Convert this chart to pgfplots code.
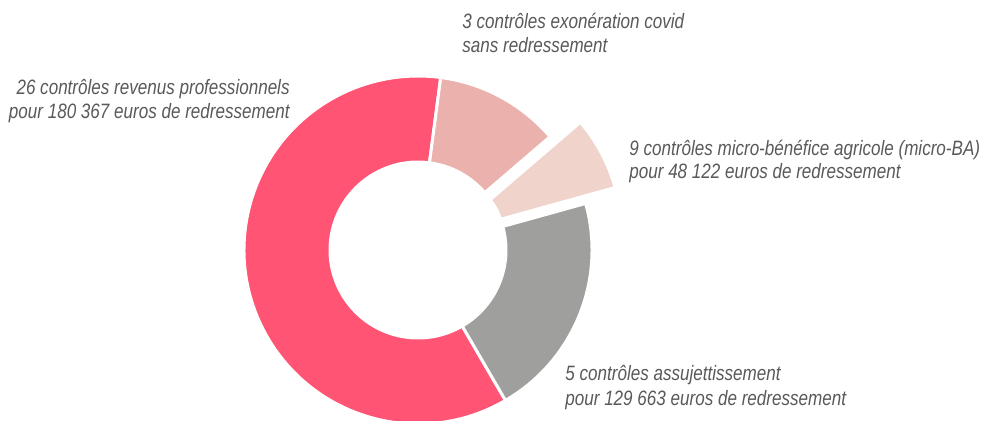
\documentclass[border=0pt]{standalone}
\usepackage{pgfplots}
\pgfplotsset{compat=1.18}
\usepackage{pgfplotstable}
\usepackage{fontspec}
\setmainfont{Liberation Sans}
\newfontfamily\lbl[FakeStretch=0.82]{Liberation Sans}

\definecolor{KRed}{HTML}{FF5473}
\definecolor{KRose}{HTML}{EBB1AD}
\definecolor{KPale}{HTML}{F0D4CC}
\definecolor{KGrey}{HTML}{9F9F9D}
\definecolor{KText}{HTML}{595959}

% slice sizes, clockwise from the top
\pgfplotstableread{
val
5
3
9
26
}\donut

% start / end angle of each slice
\def\total{43}
\def\angA{82.5}
\foreach \i in {0,1,2,3}{%
  \pgfplotstablegetelem{\i}{val}\of\donut
  \pgfmathsetmacro\angB{\angA-\pgfplotsretval*360/\total}%
  \expandafter\xdef\csname sa\i\endcsname{\angA}%
  \expandafter\xdef\csname ea\i\endcsname{\angB}%
  \global\let\angA\angB
}

% #1 slice, #2 colour, #3 #4 centre, #5 outer radius, #6 inner radius
\newcommand\slice[6]{%
  \edef\a{\csname sa#1\endcsname}\edef\b{\csname ea#1\endcsname}%
  \fill[#2,draw=white,line width=1.5pt]
    (axis cs:{#3+#5*cos(\a)},{#4+#5*sin(\a)})
    arc[start angle=\a,end angle=\b,radius=#5*0.5pt]
    -- (axis cs:{#3+#6*cos(\b)},{#4+#6*sin(\b)})
    arc[start angle=\b,end angle=\a,radius=#6*0.5pt] -- cycle;}

\tikzset{lab/.style={inner sep=0pt,text=KText,
  font=\lbl\itshape\fontsize{10.4}{12}\selectfont}}

\begin{document}
\begin{tikzpicture}
  \begin{axis}[name=ax,
      x=0.5pt,y=0.5pt,
      xmin=0,xmax=984,ymin=0,ymax=420,
      hide axis,clip=true]
    \pgfplotsextra{%
      \slice{3}{KRed}{418}{170}{174}{88}%
      \slice{0}{KRose}{418}{170}{174}{88}%
      \slice{2}{KGrey}{418}{170}{174}{88}%
      \slice{1}{KPale}{451.3}{187}{170}{51}%
    }
    \node[lab,anchor=base east] at (axis cs:290,326) {26 contrôles revenus professionnels};
    \node[lab,anchor=base east] at (axis cs:290,302) {pour 180 367 euros de redressement};
    \node[lab,anchor=base west] at (axis cs:462,392) {3 contrôles exonération covid};
    \node[lab,anchor=base west] at (axis cs:462,368) {sans redressement};
    \node[lab,anchor=base west] at (axis cs:629,265) {9 contrôles micro-bénéfice agricole (micro-BA)};
    \node[lab,anchor=base west] at (axis cs:629,242) {pour 48 122 euros de redressement};
    \node[lab,anchor=base west] at (axis cs:565,39.3) {5 contrôles assujettissement};
    \node[lab,anchor=base west] at (axis cs:565,15) {pour 129 663 euros de redressement};
  \end{axis}
  \pgfresetboundingbox
  \path (ax.south west) rectangle (ax.north east);
\end{tikzpicture}
\end{document}
